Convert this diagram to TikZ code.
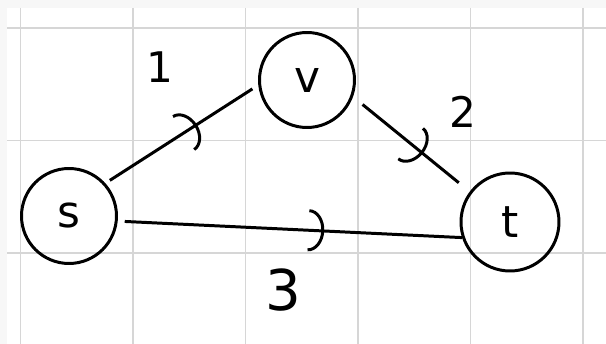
\documentclass[tikz,border=0pt]{standalone}
\usepackage{fontspec}
\setmainfont{DejaVu Sans}
\usetikzlibrary{arrows.meta,decorations.markings}
\tikzset{
  vert/.style={draw, circle, line width=1.7pt, minimum size=1.9cm, inner sep=0pt,
               font=\fontsize{25}{28}\selectfont},
  flowedge/.style={line width=1.7pt, postaction={decorate},
                   decoration={markings, mark=at position 0.6 with
                     {\arrow{Arc Barb[length=9pt,width=24pt,line width=1.7pt]}}}},
  wlbl/.style={font=\fontsize{24}{28}\selectfont, inner sep=0pt},
  gridline/.style={draw=black!16, line width=0.6pt},
}

\begin{document}
\begin{tikzpicture}[x=0.02cm, y=-0.02cm]

  % Paper
  \fill[black!3] (0,0) rectangle (606,344);
  \fill[white] (7,8) rectangle (606,344);
  \useasboundingbox (0,0) rectangle (606,344);

  % Grid
  \foreach \gx in {20.5,133,245.5,358,470.5,583}
    \draw[gridline] (\gx,8) -- (\gx,344);
  \foreach \gy in {28,140.5,253}
    \draw[gridline] (7,\gy) -- (606,\gy);

  % Vertices
  \node[vert] (s) at (69,216)  {s};
  \node[vert] (v) at (307,80)  {v};
  \node[vert, minimum size=1.96cm] (t) at (510,222) {t};

  % Edges
  \draw[flowedge, shorten <=3pt, shorten >=4pt] (s.42) -- (v.186);
  \draw[flowedge, shorten <=7pt, shorten >=8pt] (v.-20) -- (t.143);
  \draw[flowedge, shorten <=4pt] (s.-6) -- (t.198);

  % Capacities
  \node[wlbl] (c1) at (160,67)  {1};
  \node[wlbl] (c2) at (463,112) {2};
  \node[wlbl, font=\fontsize{32}{36}\selectfont] (c3) at (283,290) {3};

\end{tikzpicture}
\end{document}
